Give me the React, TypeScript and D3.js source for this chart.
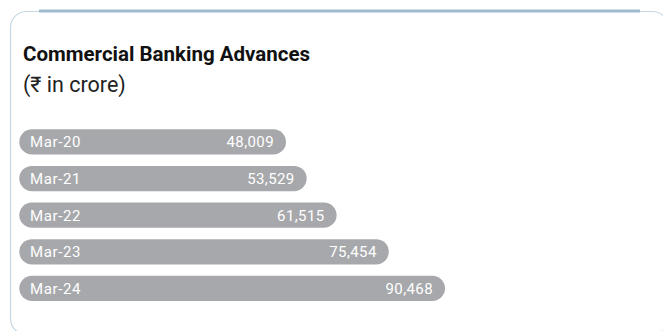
import React from "react";
import * as d3 from "d3";

const categories = ["Mar-20", "Mar-21", "Mar-22", "Mar-23", "Mar-24"];
const values = [48009, 53529, 61515, 75454, 90468];
const title = "Commercial Banking Advances";
const subtitle = "(₹ in crore)";

const W = 663;
const H = 331;

export default function App() {
  const x = d3.scaleLinear().domain([40000, 95000]).range([256, 462]);
  const y = d3
    .scaleBand<string>()
    .domain(categories)
    .range([129.3, 301])
    .paddingInner(0.31)
    .paddingOuter(0);
  const x0 = 19.3;
  const fmt = d3.format(",");
  const bh = y.bandwidth();

  return (
    <svg
      width={W}
      height={H}
      style={{ position: "absolute", left: 0, top: 0, background: "#fff" }}
      fontFamily="Roboto, 'Noto Sans', sans-serif"
    >
      <rect x={10.5} y={11.5} width={658} height={323} rx={16} ry={16} fill="#fff" stroke="#c6d7e2" strokeWidth={1.2} />
      <line x1={39} x2={640} y1={11} y2={11} stroke="#9fbbce" strokeWidth={3} />
      <text x={23} y={61} fontSize={20.5} fontWeight={700} fill="#111">
        {title}
      </text>
      <text x={23} y={92} fontSize={21.5} fill="#222">
        {subtitle}
      </text>
      {categories.map((c, i) => {
        const yy = y(c)!;
        const xe = x(values[i]);
        return (
          <g key={c}>
            <rect x={x0} y={yy} width={xe - x0} height={bh} rx={bh / 2} ry={bh / 2} fill="#a7a8ab" />
            <text x={30} y={yy + bh / 2} dy="0.36em" fontSize={15} letterSpacing={0.6} fill="#fff">
              {c}
            </text>
            <text x={xe - 12} y={yy + bh / 2} dy="0.36em" fontSize={15} letterSpacing={0.4} fill="#fff" textAnchor="end">
              {fmt(values[i])}
            </text>
          </g>
        );
      })}
    </svg>
  );
}
